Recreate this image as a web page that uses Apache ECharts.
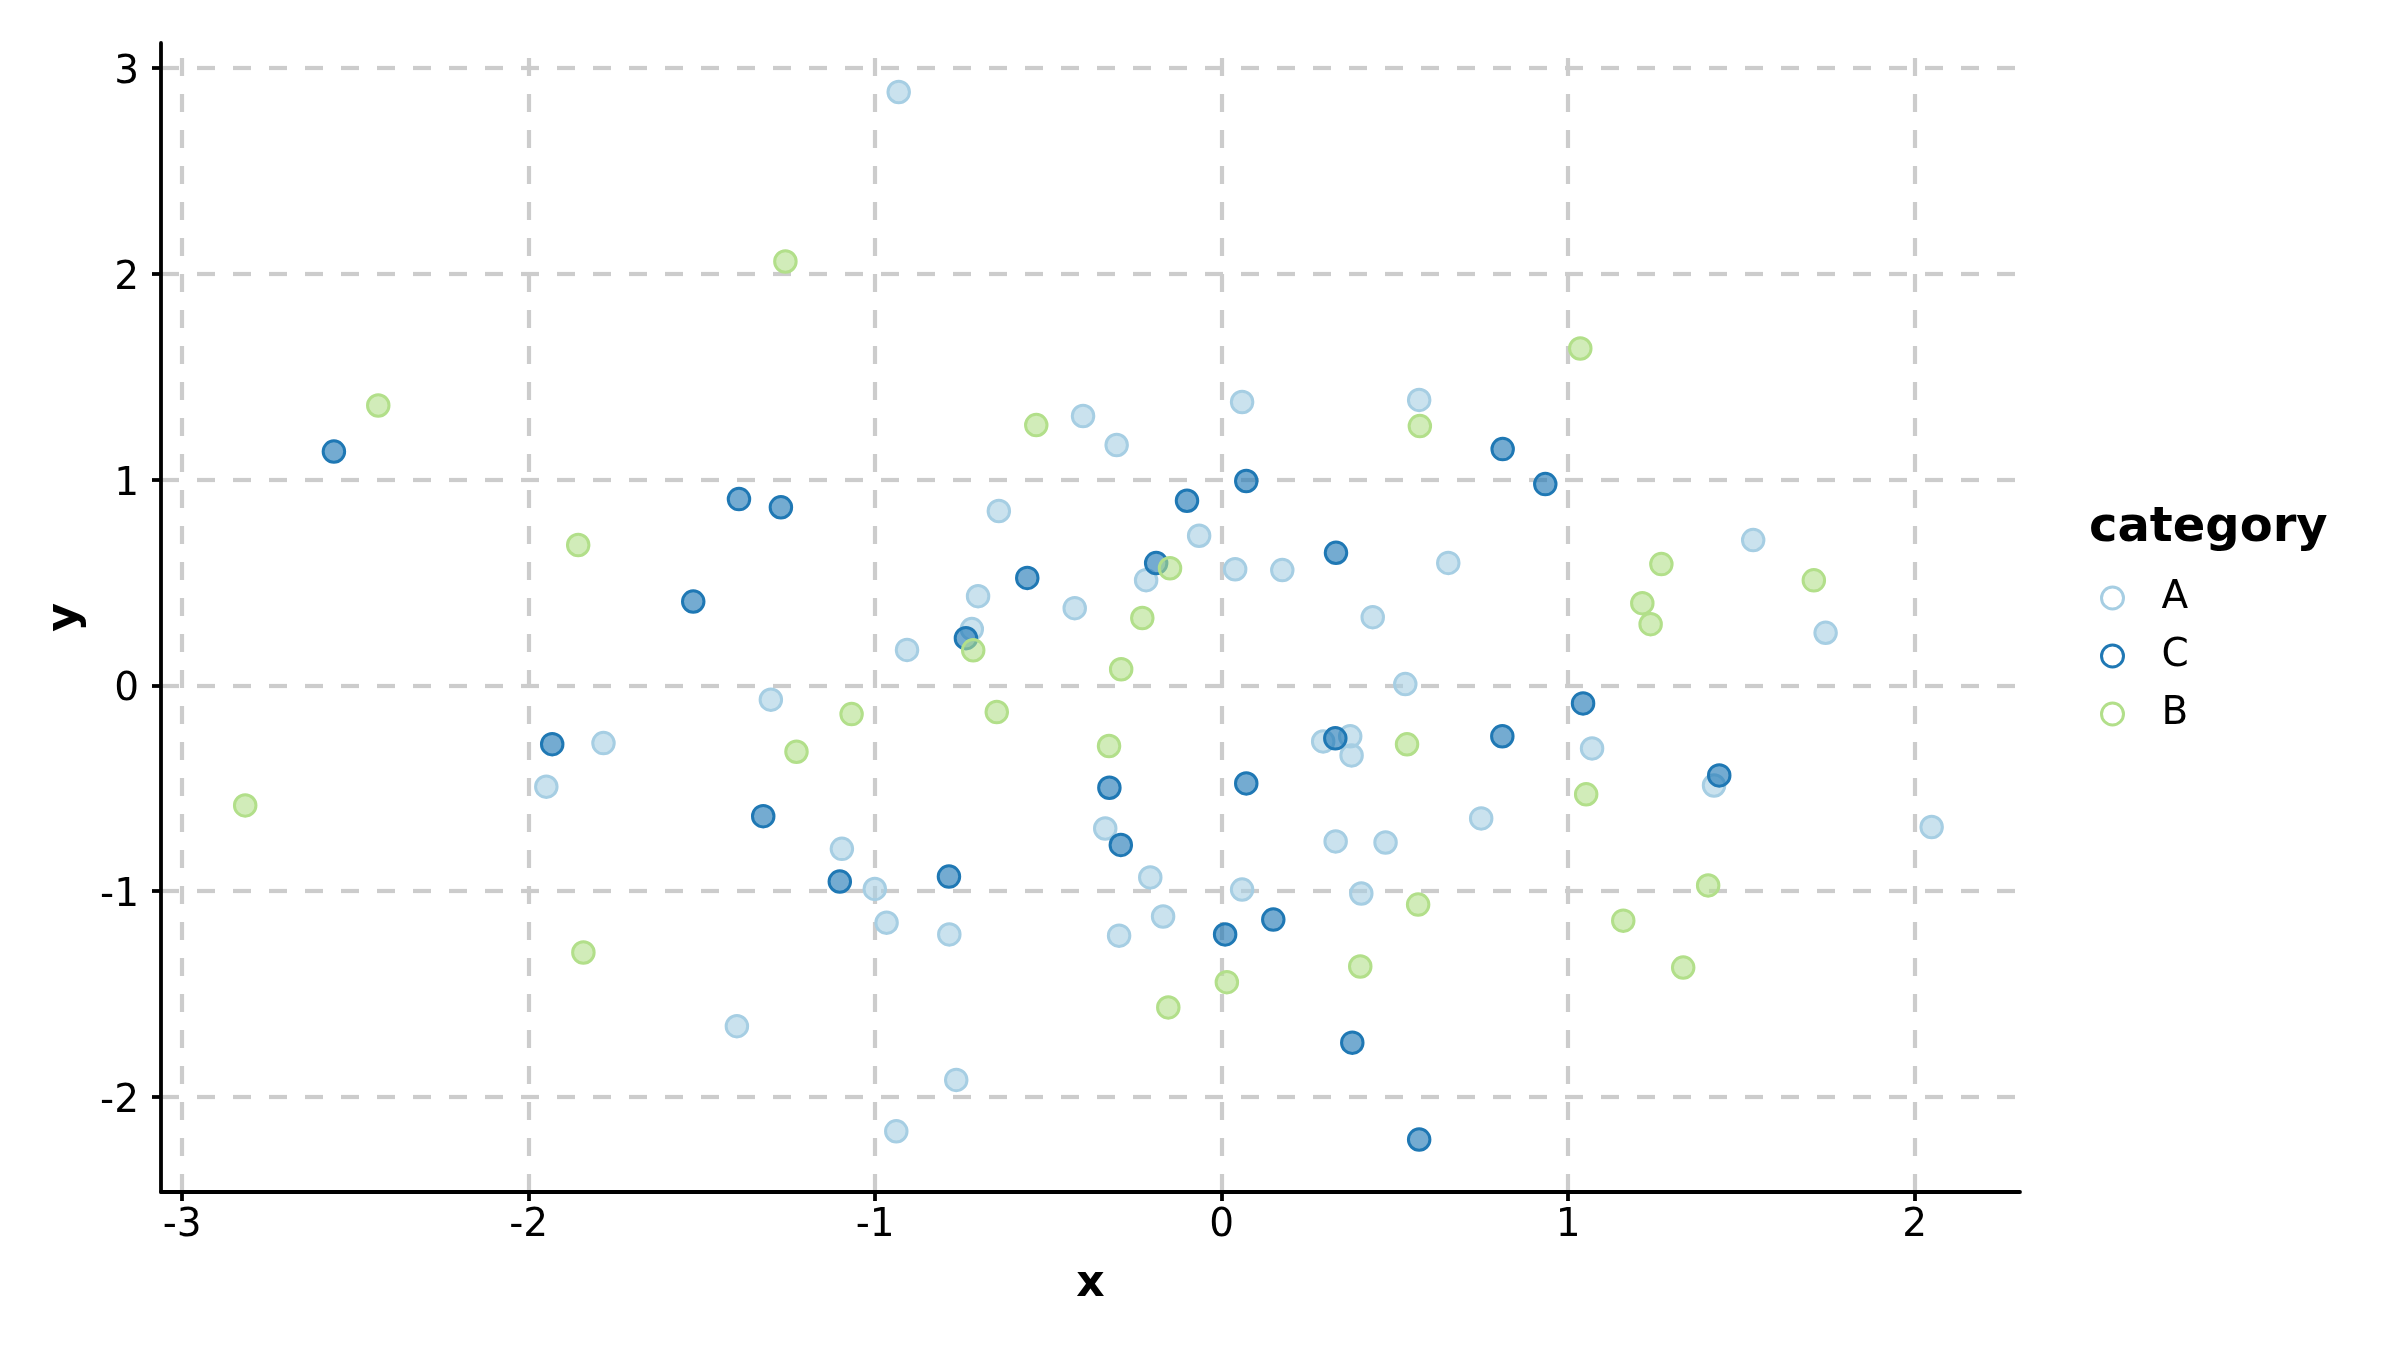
<!DOCTYPE html>
<html>
<head>
<meta charset="utf-8">
<script src="https://cdn.jsdelivr.net/npm/echarts@6/dist/echarts.min.js"></script>
<style>
html,body{margin:0;padding:0;background:#fff;}
#chart{width:2400px;height:1351px;}
</style>
</head>
<body>
<div id="chart"></div>
<script>
// ---- data ----
var categories = ['A', 'C', 'B'];
var xTicks = [-3, -2, -1, 0, 1, 2];
var yTicks = [-2, -1, 0, 1, 2, 3];

var pointsA = [
  [-0.932, 2.884], [-0.400, 1.309], [-0.303, 1.168], [0.059, 1.377], [0.570, 1.387],
  [-0.643, 0.847], [-0.065, 0.727], [-0.218, 0.511], [-0.703, 0.433], [-0.424, 0.375],
  [-0.721, 0.273], [-0.908, 0.172], [0.039, 0.564], [0.175, 0.560], [0.654, 0.595],
  [0.436, 0.331], [0.530, 0.006], [-1.301, -0.070], [-1.784, -0.281], [-1.949, -0.493],
  [0.293, -0.273], [0.371, -0.248], [0.375, -0.341], [1.069, -0.307], [1.421, -0.487],
  [2.049, -0.689], [-0.336, -0.696], [-1.096, -0.795], [-1.001, -0.990], [-0.967, -1.154],
  [-0.786, -1.211], [-0.206, -0.934], [-0.296, -1.217], [-0.169, -1.124], [0.059, -0.993],
  [0.329, -0.759], [0.473, -0.764], [0.403, -1.012], [0.749, -0.647], [-0.766, -1.918],
  [-0.939, -2.168], [-1.399, -1.657], [1.534, 0.706], [1.743, 0.255]
];
var pointsC = [
  [-2.562, 1.136], [0.811, 1.148], [0.934, 0.978], [0.071, 0.993], [-1.393, 0.905],
  [-1.272, 0.865], [-1.525, 0.407], [-0.100, 0.897], [-0.189, 0.594], [-0.561, 0.522],
  [-0.738, 0.229], [0.330, 0.644], [-1.932, -0.286], [-1.323, -0.636], [-0.324, -0.498],
  [0.071, -0.477], [0.328, -0.258], [0.810, -0.248], [1.043, -0.088], [1.436, -0.438],
  [-0.291, -0.776], [-1.102, -0.954], [-0.787, -0.930], [0.010, -1.211], [0.149, -1.139],
  [0.377, -1.737], [0.570, -2.208]
];
var pointsB = [
  [-1.259, 2.060], [-2.434, 1.360], [-0.535, 1.265], [0.572, 1.260], [1.035, 1.637],
  [-1.857, 0.682], [-0.149, 0.569], [-0.229, 0.327], [-0.717, 0.170], [-0.290, 0.078],
  [-1.068, -0.140], [-0.649, -0.130], [-2.818, -0.584], [-1.227, -0.323], [-0.325, -0.295],
  [0.535, -0.287], [1.052, -0.530], [0.567, -1.066], [0.400, -1.367], [-0.154, -1.566],
  [0.015, -1.443], [-1.842, -1.299], [1.159, -1.144], [1.404, -0.973], [1.332, -1.372],
  [1.214, 0.399], [1.238, 0.297], [1.269, 0.589], [1.709, 0.510]
];

var strokeColors = { A: '#a6cee3', C: '#1f78b4', B: '#b2df8a' };
var fillColors = { A: 'rgba(166,206,227,0.6)', C: 'rgba(31,120,180,0.62)', B: 'rgba(178,223,138,0.6)' };
var seriesData = { A: pointsA, C: pointsC, B: pointsB };

var FONT = 'DejaVu Sans';

var gridLines = [];
xTicks.forEach(function (v) { gridLines.push({ xAxis: v }); });
yTicks.forEach(function (v) { gridLines.push({ yAxis: v }); });

var series = [{
  name: '__grid',
  type: 'scatter',
  data: [],
  silent: true,
  z: 1,
  markLine: {
    silent: true,
    z: 1,
    symbol: ['none', 'none'],
    label: { show: false },
    emphasis: { disabled: true },
    animation: false,
    lineStyle: { color: '#cccccc', width: 4.2, type: [18, 18] },
    data: gridLines
  }
}];

categories.forEach(function (c) {
  series.push({
    name: c,
    type: 'scatter',
    z: 3,
    symbol: 'circle',
    symbolSize: 21.5,
    data: seriesData[c],
    itemStyle: {
      color: fillColors[c],
      borderColor: strokeColors[c],
      borderWidth: 3,
      opacity: 1
    },
    emphasis: { disabled: true }
  });
});

var chart = echarts.init(document.getElementById('chart'), null, { renderer: 'canvas' });
chart.setOption({
  animation: false,
  backgroundColor: '#ffffff',
  title: {
    text: 'category',
    left: 2089,
    top: 505,
    padding: 0,
    textStyle: { fontFamily: FONT, fontSize: 48, fontWeight: 'bold', color: '#000' }
  },
  legend: {
    orient: 'vertical',
    left: 2100,
    top: 578,
    padding: 0,
    itemWidth: 22,
    itemHeight: 22,
    itemGap: 18,
    selectedMode: false,
    data: categories.map(function (c) {
      return {
        name: c,
        icon: 'circle',
        itemStyle: { color: '#ffffff', borderColor: strokeColors[c], borderWidth: 3 }
      };
    }),
    textStyle: { fontFamily: FONT, fontSize: 39, color: '#000', lineHeight: 40, padding: [0, 0, 0, 33] }
  },
  grid: { left: 161, right: 380, top: 43, bottom: 159, containLabel: false },
  xAxis: {
    type: 'value',
    min: -3.061,
    max: 2.304,
    name: 'x',
    nameLocation: 'middle',
    nameGap: 71,
    nameTextStyle: { fontFamily: FONT, fontSize: 44, fontWeight: 'bold', color: '#000' },
    axisLine: { show: true, onZero: false, lineStyle: { color: '#000', width: 3.8 } },
    axisTick: { show: true, customValues: xTicks, length: 9, lineStyle: { color: '#000', width: 3.8 } },
    axisLabel: { customValues: xTicks, fontFamily: FONT, fontSize: 39, color: '#000', margin: 14 },
    splitLine: { show: false },
    z: 5
  },
  yAxis: {
    type: 'value',
    min: -2.463,
    max: 3.122,
    name: 'y',
    nameLocation: 'middle',
    nameGap: 73,
    nameTextStyle: { fontFamily: FONT, fontSize: 44, fontWeight: 'bold', color: '#000' },
    axisLine: { show: true, onZero: false, lineStyle: { color: '#000', width: 3.8 } },
    axisTick: { show: true, customValues: yTicks, length: 9, lineStyle: { color: '#000', width: 3.8 } },
    axisLabel: {
      customValues: yTicks,
      margin: 22,
      formatter: function (v) { return '{v|' + v + '}'; },
      rich: { v: { fontFamily: FONT, fontSize: 39, color: '#000', padding: [10, 0, 0, 0] } }
    },
    splitLine: { show: false },
    z: 5
  },
  series: series
});
</script>
</body>
</html>
